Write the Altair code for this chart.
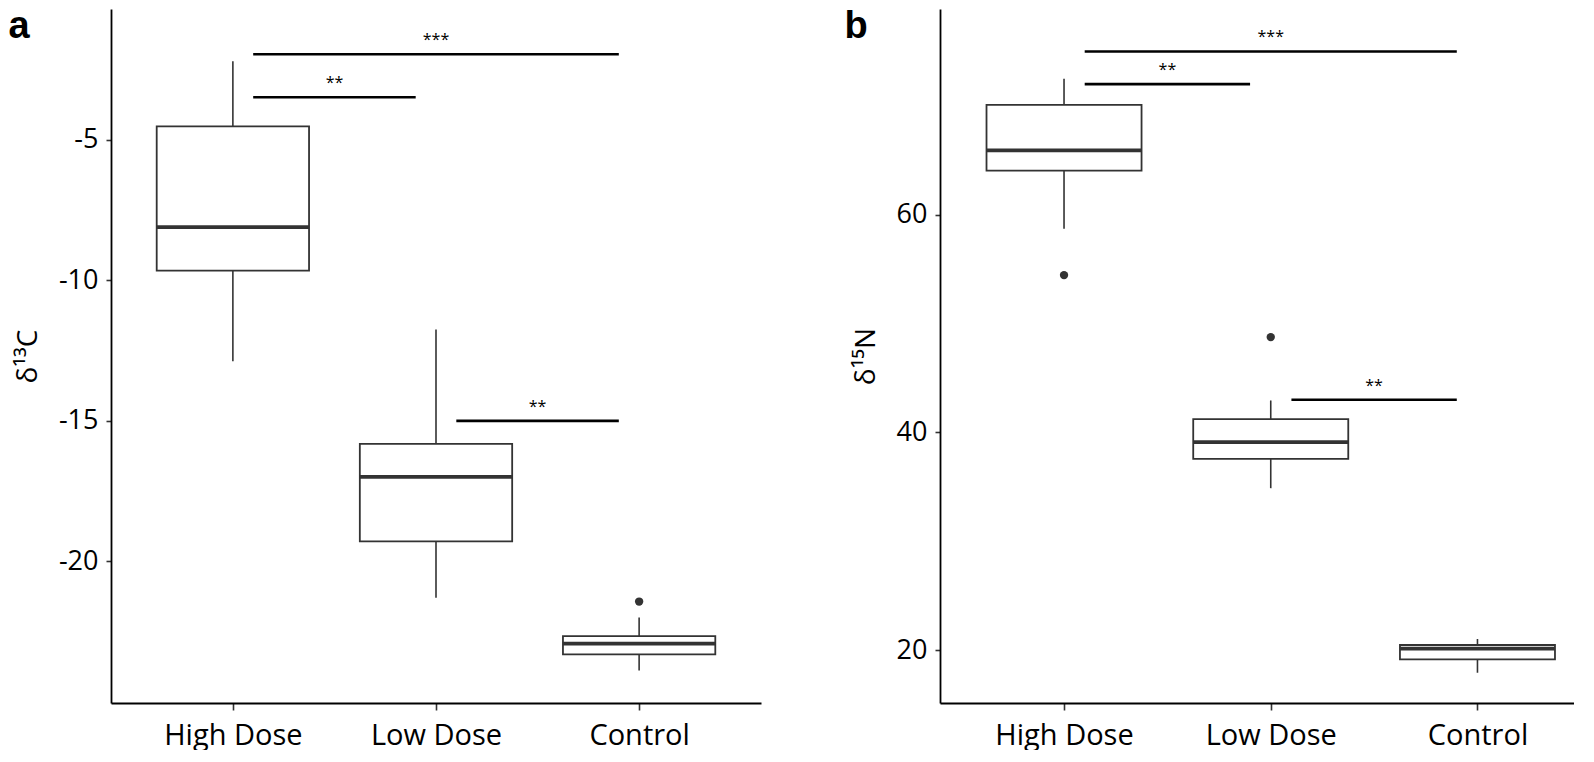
import altair as alt
import pandas as pd

# ---------------- data ----------------
groups = ["High Dose", "Low Dose", "Control"]
positions = [1, 2, 3]

# panel a: delta 13C
c_whisk_hi = [-2.20, -11.75, -22.00]
c_q3 = [-4.52, -15.82, -22.66]
c_med = [-8.10, -16.99, -22.93]
c_q1 = [-9.65, -19.29, -23.31]
c_whisk_lo = [-12.88, -21.29, -23.88]
c_out_group = [3]
c_out_value = [-21.43]
c_sig_from = [1, 1, 2]
c_sig_to = [3, 2, 3]
c_sig_y = [-1.95, -3.48, -15.0]
c_sig_lab = ["***", "**", "**"]

# panel b: delta 15N
n_whisk_hi = [72.5, 42.93, 21.01]
n_q3 = [70.09, 41.21, 20.46]
n_med = [65.91, 39.10, 20.12]
n_q1 = [64.05, 37.56, 19.14]
n_whisk_lo = [58.71, 34.87, 17.91]
n_out_group = [1, 2]
n_out_value = [54.45, 48.75]
n_sig_from = [1, 1, 2]
n_sig_to = [3, 2, 3]
n_sig_y = [75.0, 72.0, 43.0]
n_sig_lab = ["***", "**", "**"]

c_ticks = [-20, -15, -10, -5]
n_ticks = [20, 40, 60]

FONT = "Open Sans"
BOX = "#333333"
HALF = 0.375

label_expr = " : ".join(
    f"datum.value == {p} ? '{g}'" for p, g in zip(positions[:-1], groups[:-1])
) + f" : '{groups[-1]}'"


def panel(lo, q1, med, q3, hi, out_g, out_v, s_from, s_to, s_y, s_lab,
          ydomain, yticks, ytitle, letter, letter_x, xdomain, width):
    box = pd.DataFrame({"group": groups, "pos": positions, "lo": lo, "q1": q1,
                        "med": med, "q3": q3, "hi": hi})
    outl = pd.DataFrame({"pos": out_g, "v": out_v})
    sig = pd.DataFrame({"a": s_from, "b": s_to, "y": s_y, "lab": s_lab})

    xsc = alt.Scale(domain=xdomain, nice=False, zero=False)
    ysc = alt.Scale(domain=ydomain, nice=False, zero=False)
    xax = alt.Axis(values=positions, labelExpr=label_expr, title=None,
                   labelFontSize=29, labelPadding=11, tickSize=7)
    yax = alt.Axis(values=yticks, title=ytitle, titleFontSize=28,
                   labelExpr="'' + datum.value",
                   labelFontSize=27, labelPadding=8, tickSize=5,
                   titlePadding=16)

    base = alt.Chart(box)
    whisk_up = base.mark_rule(color=BOX, strokeWidth=1.6).encode(
        x=alt.X("pos:Q", scale=xsc, axis=xax),
        y=alt.Y("q3:Q", scale=ysc, axis=yax),
        y2="hi:Q")
    whisk_dn = base.mark_rule(color=BOX, strokeWidth=1.6).encode(
        x=alt.X("pos:Q", scale=xsc), y=alt.Y("lo:Q", scale=ysc), y2="q1:Q")
    rect = base.transform_calculate(
        left=f"datum.pos - {HALF}", right=f"datum.pos + {HALF}"
    ).mark_rect(fill="white", stroke=BOX, strokeWidth=1.8).encode(
        x=alt.X("left:Q", scale=xsc), x2="right:Q",
        y=alt.Y("q1:Q", scale=ysc), y2="q3:Q")
    median = base.transform_calculate(
        left=f"datum.pos - {HALF}", right=f"datum.pos + {HALF}"
    ).mark_rule(color=BOX, strokeWidth=3.8).encode(
        x=alt.X("left:Q", scale=xsc), x2="right:Q",
        y=alt.Y("med:Q", scale=ysc))
    pts = alt.Chart(outl).mark_point(filled=True, color=BOX, size=70,
                                     opacity=1).encode(
        x=alt.X("pos:Q", scale=xsc), y=alt.Y("v:Q", scale=ysc))
    sbase = alt.Chart(sig).transform_calculate(
        s="datum.a + 0.1", e="datum.b - 0.1", m="(datum.a + datum.b) / 2")
    slines = sbase.mark_rule(color="black", strokeWidth=2.6).encode(
        x=alt.X("s:Q", scale=xsc), x2="e:Q", y=alt.Y("y:Q", scale=ysc))
    stext = sbase.mark_text(font=FONT, fontSize=16, color="black",
                            baseline="alphabetic", dy=-9).encode(
        x=alt.X("m:Q", scale=xsc), y=alt.Y("y:Q", scale=ysc), text="lab:N")
    let = alt.Chart(pd.DataFrame({"t": [letter]})).mark_text(
        font="Liberation Sans", fontWeight="bold", fontSize=38,
        color="black", baseline="alphabetic", align="center").encode(
        text="t:N", x=alt.value(letter_x), y=alt.value(29.1))
    return alt.layer(whisk_up, whisk_dn, rect, median, pts, slines, stext,
                     let).properties(width=width, height=694)


pa = panel(c_whisk_lo, c_q1, c_med, c_q3, c_whisk_hi, c_out_group,
           c_out_value, c_sig_from, c_sig_to, c_sig_y, c_sig_lab,
           [-25.04, -0.34], c_ticks, "δ¹³C", "a", -92, [0.4, 3.6], 650)
pb = panel(n_whisk_lo, n_q1, n_med, n_q3, n_whisk_hi, n_out_group,
           n_out_value, n_sig_from, n_sig_to, n_sig_y, n_sig_lab,
           [15.13, 78.9], n_ticks, "δ¹⁵N", "b", -84, [0.4, 3.467], 634)

chart = alt.hconcat(pa, pb, spacing=83).properties(
    padding={"left": 0, "top": 0, "right": 0, "bottom": 0}
).configure_view(stroke=None).configure_axis(
    grid=False, domainColor="black", domainWidth=1.8, tickColor="#333333",
    tickWidth=1.6, labelColor="black", titleColor="black", labelFont=FONT,
    titleFont=FONT, titleFontWeight="normal"
)

chart.save("out.html", embed_options={"renderer": "svg", "actions": False})
